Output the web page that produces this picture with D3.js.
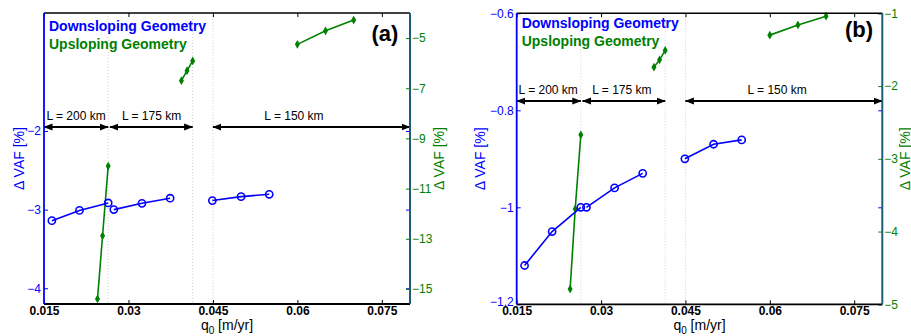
<!DOCTYPE html>
<meta charset="utf-8">
<body style="margin:0;background-color:#ffffff">

<!-- Load d3.js -->
<script src="https://d3js.org/d3.v7.min.js"></script>

<div id="my_dataviz"></div>

<script>

// q0 values [m/yr]
var qDown = [0.0164, 0.0213, 0.0264, 0.0274, 0.0324, 0.0374, 0.0449, 0.0500, 0.0550];
var qUp   = [0.0245, 0.0254, 0.0264, 0.0394, 0.0404, 0.0414, 0.0600, 0.0650, 0.0700];
// length of domain for each point (points are only joined within a group)
var groupL = [200, 200, 200, 175, 175, 175, 150, 150, 150];

// delta VAF [%], panel (a)
var downA = [-3.14, -3.01, -2.915, -3.00, -2.92, -2.855, -2.885, -2.835, -2.805];
var upA   = [-15.40, -12.88, -10.10, -6.70, -6.30, -5.91, -5.25, -4.71, -4.28];
// delta VAF [%], panel (b)
var downB = [-1.12, -1.05, -1.00, -1.00, -0.96, -0.93, -0.90, -0.87, -0.861];
var upB   = [-4.79, -3.69, -2.67, -1.74, -1.64, -1.51, -1.30, -1.16, -1.04];

// ticks
var xTicks = [0.015, 0.03, 0.045, 0.06, 0.075];
var xTickLabels = ["0.015", "0.03", "0.045", "0.06", "0.075"];
var leftTicksA = [-4, -3, -2];
var rightTicksA = [-15, -13, -11, -9, -7, -5];
var leftTicksB = [-1.2, -1, -0.8, -0.6];
var rightTicksB = [-5, -4, -3, -2, -1];

// L ranges (arrows) and their labels
var spanNames = ["L = 200 km", "L = 175 km", "L = 150 km"];
var spanStart = [0.015, 0.0267, 0.045];
var spanEnd   = [0.0264, 0.0414, 0.080];
var spanLabelA = [0.0207, 0.0341, 0.0594];
var spanLabelB = [0.0206, 0.0337, 0.0613];
// dotted separators
var sepLines = [0.0264, 0.0414, 0.045];

var BLUE = "#0000ff", GREEN = "#008000", TEAL = "#1b5e7b";
var FONT = "'Liberation Sans', Arial, sans-serif";
var yFmt = d3.format("~g");

var svg = d3.select("#my_dataviz")
  .append("svg")
    .attr("width", 911)
    .attr("height", 336)
    .style("font-family", FONT);

svg.append("defs").append("marker")
    .attr("id", "head")
    .attr("viewBox", "0 -4 9 8")
    .attr("refX", 8.5)
    .attr("refY", 0)
    .attr("markerUnits", "userSpaceOnUse")
    .attr("markerWidth", 9)
    .attr("markerHeight", 8)
    .attr("orient", "auto-start-reverse")
  .append("path")
    .attr("d", "M0,-3.5L9,0L0,3.5Z")
    .attr("fill", "#000");

drawPanel({
  left: 44, right: 410, top: 13, bottom: 304,
  yLeft: [-4.2, -0.5], yRight: [-15.6, -4],
  leftTicks: leftTicksA, rightTicks: rightTicksA,
  down: downA, up: upA,
  arrowY: -1.95, labelX: spanLabelA,
  tag: "(a)", tagX: 385, tagY: 41,
  legendY: 31, yLabLeft: 24, yLabRight: 444
});

drawPanel({
  left: 516.7, right: 882.3, top: 13.3, bottom: 304.3,
  yLeft: [-1.2, -0.6], yRight: [-5, -1],
  leftTicks: leftTicksB, rightTicks: rightTicksB,
  down: downB, up: upB,
  arrowY: -0.781, labelX: spanLabelB,
  tag: "(b)", tagX: 859, tagY: 37,
  legendY: 28.3, yLabLeft: 485, yLabRight: 909.5
});

function drawPanel(p) {
  var g = svg.append("g");

  var x = d3.scaleLinear().domain([0.015, 0.08]).range([p.left, p.right]);
  var y1 = d3.scaleLinear().domain(p.yLeft).range([p.bottom, p.top]);
  var y2 = d3.scaleLinear().domain(p.yRight).range([p.bottom, p.top]);

  // dotted separators
  g.selectAll(".sep")
    .data(sepLines)
    .enter()
    .append("line")
      .attr("x1", function (d) { return x(d); })
      .attr("x2", function (d) { return x(d); })
      .attr("y1", p.top)
      .attr("y2", p.bottom)
      .attr("stroke", "#d0d0d0")
      .attr("stroke-width", 1)
      .attr("stroke-dasharray", "1,2");

  // bottom x axis
  var xAxis = d3.axisBottom(x)
    .tickValues(xTicks)
    .tickFormat(function (d, i) { return xTickLabels[i]; })
    .tickSizeInner(-4).tickSizeOuter(0).tickPadding(2.5);
  var gx = g.append("g")
    .attr("transform", "translate(0," + p.bottom + ")")
    .call(xAxis);
  gx.select(".domain").remove();
  gx.selectAll("line").attr("stroke", "#000");
  gx.selectAll("text")
    .attr("fill", "#000")
    .style("font-size", "12px")
    .style("font-weight", "bold")
    .style("font-family", FONT);

  // top ticks
  var gt = g.append("g")
    .attr("transform", "translate(0," + p.top + ")")
    .call(d3.axisTop(x).tickValues(xTicks).tickFormat("").tickSizeInner(-4).tickSizeOuter(0));
  gt.select(".domain").remove();
  gt.selectAll("line").attr("stroke", "#000");

  // left axis (downsloping)
  var gl = g.append("g")
    .attr("transform", "translate(" + p.left + ",0)")
    .call(d3.axisLeft(y1).tickValues(p.leftTicks).tickFormat(yFmt)
      .tickSizeInner(-4).tickSizeOuter(0).tickPadding(3));
  gl.select(".domain").remove();
  gl.selectAll("line").attr("stroke", BLUE);
  gl.selectAll("text")
    .attr("fill", BLUE)
    .style("font-size", "12px")
    .style("font-family", FONT);
  // lift a label sitting on the bottom corner so it clears the x tick label
  gl.selectAll("text")
    .filter(function (d) { return d === p.yLeft[0]; })
    .attr("y", -3);

  // mirrored blue ticks on the right side
  var gm = g.append("g")
    .attr("transform", "translate(" + p.right + ",0)")
    .call(d3.axisRight(y1).tickValues(p.leftTicks).tickFormat("").tickSizeInner(-4).tickSizeOuter(0));
  gm.select(".domain").remove();
  gm.selectAll("line").attr("stroke", BLUE);

  // right axis (upsloping)
  var gr = g.append("g")
    .attr("transform", "translate(" + p.right + ",0)")
    .call(d3.axisRight(y2).tickValues(p.rightTicks).tickFormat(yFmt)
      .tickSizeInner(-4).tickSizeOuter(0).tickPadding(2));
  gr.select(".domain").remove();
  gr.selectAll("line").attr("stroke", GREEN);
  gr.selectAll("text")
    .attr("fill", GREEN)
    .style("font-size", "12px")
    .style("font-family", FONT);

  // L arrows
  g.selectAll(".span")
    .data(spanNames)
    .enter()
    .append("line")
      .attr("x1", function (d, i) { return x(spanStart[i]); })
      .attr("x2", function (d, i) { return x(spanEnd[i]); })
      .attr("y1", y1(p.arrowY))
      .attr("y2", y1(p.arrowY))
      .attr("stroke", "#000")
      .attr("stroke-width", 2)
      .attr("marker-start", "url(#head)")
      .attr("marker-end", "url(#head)");

  g.selectAll(".spanlab")
    .data(spanNames)
    .enter()
    .append("text")
      .attr("x", function (d, i) { return x(p.labelX[i]); })
      .attr("y", y1(p.arrowY) - 7)
      .attr("text-anchor", "middle")
      .style("font-size", "12px")
      .text(function (d) { return d; });

  // series lines, one path per L group
  var line1 = d3.line().x(function (d) { return x(d.q); }).y(function (d) { return y1(d.v); });
  var line2 = d3.line().x(function (d) { return x(d.q); }).y(function (d) { return y2(d.v); });

  var downPts = qDown.map(function (q, i) { return {q: q, v: p.down[i], L: groupL[i]}; });
  var upPts = qUp.map(function (q, i) { return {q: q, v: p.up[i], L: groupL[i]}; });

  d3.groups(upPts, function (d) { return d.L; }).forEach(function (grp) {
    g.append("path")
      .datum(grp[1])
      .attr("d", line2)
      .attr("fill", "none")
      .attr("stroke", GREEN)
      .attr("stroke-width", 1.6);
  });
  g.selectAll(".upDot")
    .data(upPts)
    .enter()
    .append("path")
      .attr("transform", function (d) { return "translate(" + x(d.q) + "," + y2(d.v) + ")"; })
      .attr("d", d3.symbol().type(d3.symbolDiamond).size(22))
      .attr("fill", GREEN);

  d3.groups(downPts, function (d) { return d.L; }).forEach(function (grp) {
    g.append("path")
      .datum(grp[1])
      .attr("d", line1)
      .attr("fill", "none")
      .attr("stroke", BLUE)
      .attr("stroke-width", 1.6);
  });
  g.selectAll(".downDot")
    .data(downPts)
    .enter()
    .append("circle")
      .attr("cx", function (d) { return x(d.q); })
      .attr("cy", function (d) { return y1(d.v); })
      .attr("r", 3.6)
      .attr("fill", "none")
      .attr("stroke", BLUE)
      .attr("stroke-width", 1.6);

  // frame
  g.append("line").attr("x1", p.left).attr("x2", p.right).attr("y1", p.top).attr("y2", p.top)
    .attr("stroke", "#000").attr("stroke-width", 1.5);
  g.append("line").attr("x1", p.left).attr("x2", p.right).attr("y1", p.bottom).attr("y2", p.bottom)
    .attr("stroke", "#000").attr("stroke-width", 1.8);
  g.append("line").attr("x1", p.left).attr("x2", p.left).attr("y1", p.top).attr("y2", p.bottom)
    .attr("stroke", BLUE).attr("stroke-width", 1.8);
  g.append("line").attr("x1", p.right).attr("x2", p.right).attr("y1", p.top).attr("y2", p.bottom)
    .attr("stroke", TEAL).attr("stroke-width", 2);

  // legend text
  g.append("text")
    .attr("x", p.left + 5).attr("y", p.legendY)
    .attr("fill", BLUE)
    .style("font-size", "14px").style("font-weight", "bold")
    .text("Downsloping Geometry");
  g.append("text")
    .attr("x", p.left + 5).attr("y", p.legendY + 18)
    .attr("fill", GREEN)
    .style("font-size", "14px").style("font-weight", "bold")
    .text("Upsloping Geometry");

  // panel tag
  g.append("text")
    .attr("x", p.tagX).attr("y", p.tagY)
    .attr("text-anchor", "middle")
    .style("font-size", "22px").style("font-weight", "bold")
    .text(p.tag);

  // axis labels
  var xl = g.append("text")
    .attr("x", (p.left + p.right) / 2)
    .attr("y", 330)
    .attr("text-anchor", "middle")
    .style("font-size", "14px");
  xl.append("tspan").text("q");
  xl.append("tspan").attr("dy", 4).style("font-size", "10px").text("0");
  xl.append("tspan").attr("dy", -4).text(" [m/yr]");

  g.append("text")
    .attr("transform", "translate(" + p.yLabLeft + "," + ((p.top + p.bottom) / 2) + ") rotate(-90)")
    .attr("text-anchor", "middle")
    .attr("fill", BLUE)
    .style("font-size", "14px")
    .text("\u0394 VAF [%]");

  g.append("text")
    .attr("transform", "translate(" + p.yLabRight + "," + ((p.top + p.bottom) / 2) + ") rotate(-90)")
    .attr("text-anchor", "middle")
    .attr("fill", GREEN)
    .style("font-size", "14px")
    .text("\u0394 VAF [%]");
}

</script>
